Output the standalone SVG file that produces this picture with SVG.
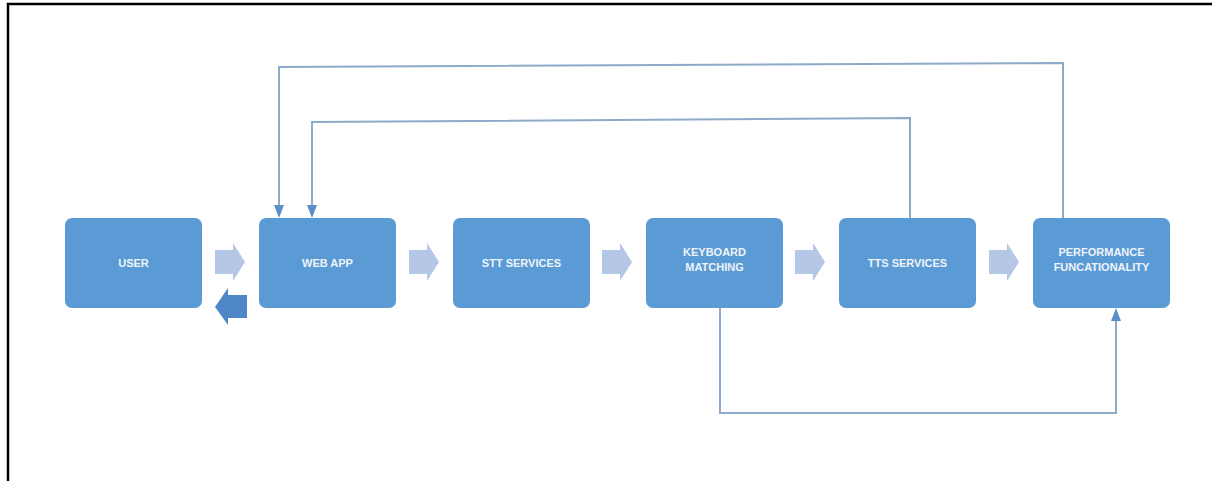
<svg xmlns="http://www.w3.org/2000/svg" width="1212" height="481" viewBox="0 0 1212 481">
<style>
.node{fill:#5b9bd5;}
.lbl{font-family:"Liberation Sans","DejaVu Sans",sans-serif;font-size:11px;font-weight:bold;fill:#eef3fa;text-anchor:middle;}
.conn{fill:none;stroke:#8eaacb;stroke-width:2;}
.step{fill:#b4c7e7;}
.back{fill:#4f86c6;}
</style>
<defs>
<marker id="ah" markerWidth="10" markerHeight="13" refX="5" refY="13" orient="auto-start-reverse" markerUnits="userSpaceOnUse" viewBox="0 0 10 13">
<path d="M0,0 L10,0 L5,13 Z" fill="#5b8fc9"/>
</marker>
</defs>
<rect width="1212" height="481" fill="#ffffff"/>
<path d="M8,481 L8,4 L1212,4" fill="none" stroke="#000" stroke-width="2.5"/>
<g id="connectors">
<path class="conn" d="M1063,218 L1063,63 L279,67 L279,205"/>
<path d="M274,205 L284,205 L279,218 Z" fill="#5b8fc9"/>
<path class="conn" d="M910,218 L910,118 L312,122 L312,205"/>
<path d="M307,205 L317,205 L312,218 Z" fill="#5b8fc9"/>
<path class="conn" d="M720,308 L720,413 L1116,413 L1116,321"/>
<path d="M1111,321 L1121,321 L1116,308 Z" fill="#5b8fc9"/>
<path class="step" d="M215,250 L233,250 L233,243 L245,262 L233,281 L233,274 L215,274 Z"/>
<path class="step" d="M409,250 L427,250 L427,243 L439,262 L427,281 L427,274 L409,274 Z"/>
<path class="step" d="M602,250 L620,250 L620,243 L632,262 L620,281 L620,274 L602,274 Z"/>
<path class="step" d="M795,250 L813,250 L813,243 L825,262 L813,281 L813,274 L795,274 Z"/>
<path class="step" d="M989,250 L1007,250 L1007,243 L1019,262 L1007,281 L1007,274 L989,274 Z"/>
<path class="back" d="M247,295 L228,295 L228,288 L215,307 L228,325 L228,318 L247,318 Z"/>
</g>
<g id="user"><rect class="node" x="65" y="218" width="137" height="90" rx="7"/><text class="lbl" x="133.5" y="267">USER</text></g>
<g id="webapp"><rect class="node" x="259" y="218" width="137" height="90" rx="7"/><text class="lbl" x="327.5" y="267">WEB APP</text></g>
<g id="stt"><rect class="node" x="453" y="218" width="137" height="90" rx="7"/><text class="lbl" x="521.5" y="267">STT SERVICES</text></g>
<g id="keyboard"><rect class="node" x="646" y="218" width="137" height="90" rx="7"/><text class="lbl" x="714.5" y="256">KEYBOARD</text><text class="lbl" x="714.5" y="271">MATCHING</text></g>
<g id="tts"><rect class="node" x="839" y="218" width="137" height="90" rx="7"/><text class="lbl" x="907.5" y="267">TTS SERVICES</text></g>
<g id="performance"><rect class="node" x="1033" y="218" width="137" height="90" rx="7"/><text class="lbl" x="1101.5" y="256">PERFORMANCE</text><text class="lbl" x="1101.5" y="271">FUNCATIONALITY</text></g>
</svg>
